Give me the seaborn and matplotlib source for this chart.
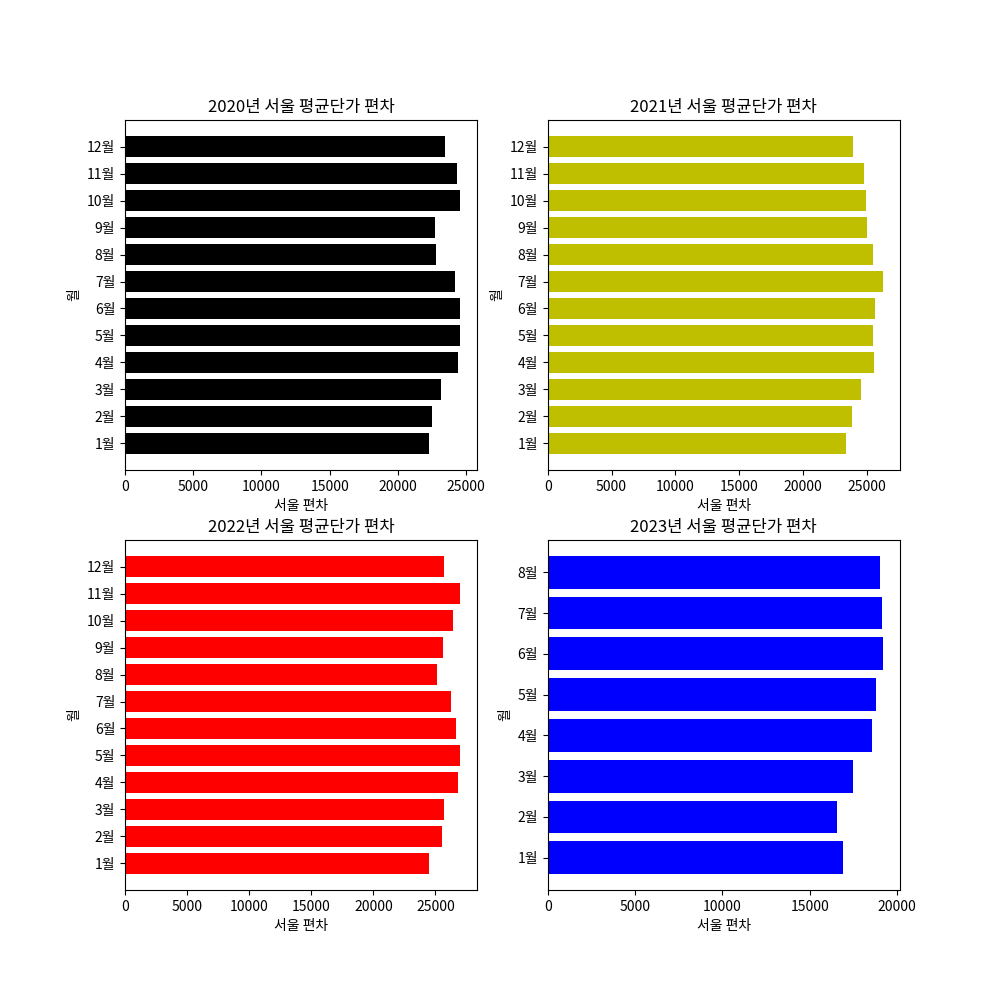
import matplotlib
matplotlib.use("Agg")
import matplotlib.pyplot as plt
import seaborn as sns
import pandas as pd

plt.rcParams['font.family'] = ['Noto Sans CJK KR', 'DejaVu Sans']
plt.rcParams['axes.unicode_minus'] = False

months12 = [f"{i}월" for i in range(1, 13)]
months8 = [f"{i}월" for i in range(1, 9)]

vals_2020 = [22300, 22520, 23180, 24430, 24510, 24510, 24210, 22820, 22740, 24580, 24360, 23480]
vals_2021 = [23370, 23840, 24550, 25570, 25490, 25650, 26280, 25490, 25020, 24940, 24780, 23920]
vals_2022 = [24520, 25570, 25730, 26780, 27020, 26620, 26220, 25090, 25650, 26380, 26940, 25730]
vals_2023 = [16900, 16560, 17480, 18570, 18800, 19200, 19140, 19030]

panels = [
    ("2020년 서울 평균단가 편차", months12, vals_2020, "k"),
    ("2021년 서울 평균단가 편차", months12, vals_2021, "y"),
    ("2022년 서울 평균단가 편차", months12, vals_2022, "r"),
    ("2023년 서울 평균단가 편차", months8, vals_2023, "b"),
]

fig, axes = plt.subplots(2, 2, figsize=(10, 10), dpi=100)
for ax, (title, months, vals, color) in zip(axes.flat, panels):
    df = pd.DataFrame({"월": months, "서울 편차": vals})
    sns.barplot(data=df, x="서울 편차", y="월", order=months, orient="h",
                color=color, saturation=1, width=0.8, ax=ax)
    n = len(months)
    m = 0.05 * (n - 1 + 0.8)
    ax.set_ylim(-0.4 - m, n - 1 + 0.4 + m)
    ax.set_title(title)
    ax.set_xlabel("서울 편차")
    ax.set_ylabel("월")

fig.savefig("out.png", dpi=100)
